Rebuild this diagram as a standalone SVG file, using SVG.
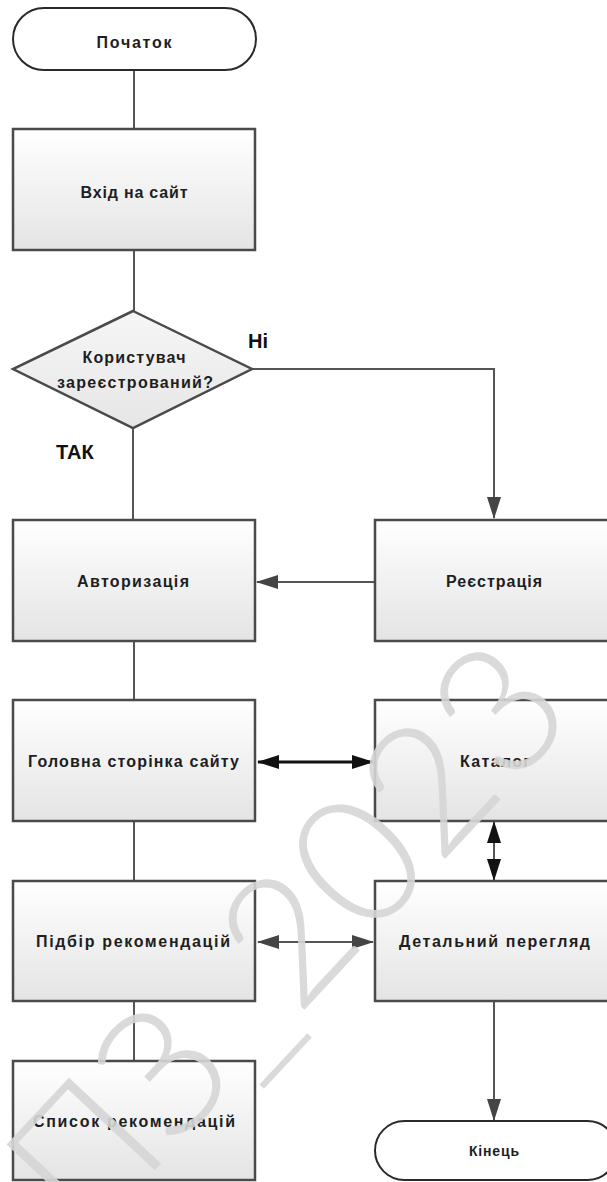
<svg xmlns="http://www.w3.org/2000/svg" width="607" height="1182" viewBox="0 0 607 1182">
<style>
.box{stroke:#4a4a4a;stroke-width:2.5;fill:url(#g)}
.term{stroke:#2a2a2a;stroke-width:2;fill:#fff}
.dia{stroke:#4a4a4a;stroke-width:2.5;fill:url(#gd)}
.t{font-family:"Liberation Sans",Arial,sans-serif;font-weight:bold;font-size:16px;fill:#1e1e1e;text-anchor:middle}
.ts{font-size:14px}
.lbl{font-family:"Liberation Sans",Arial,sans-serif;font-weight:bold;font-size:20px;fill:#111}
.ln{stroke:#555;stroke-width:2;fill:none}
.lnb{stroke:#111;stroke-width:3;fill:none}
.wm{font-family:Lato,"Open Sans",sans-serif;font-weight:300;font-size:178px;fill:#d6d6d6;opacity:0.9}
</style>
<defs>
<linearGradient id="g" x1="0" y1="0" x2="0" y2="1"><stop offset="0" stop-color="#ffffff"/><stop offset="1" stop-color="#e4e4e4"/></linearGradient>
<linearGradient id="gd" x1="0" y1="0" x2="0" y2="1"><stop offset="0" stop-color="#f6f6f6"/><stop offset="1" stop-color="#e6e6e6"/></linearGradient>
<marker id="a" markerUnits="userSpaceOnUse" markerWidth="22" markerHeight="16" viewBox="0 0 22 16" refX="21" refY="8" orient="auto-start-reverse"><path d="M0,1 L22,8 L0,15 z" fill="#444"/></marker>
<marker id="ab" markerUnits="userSpaceOnUse" markerWidth="22" markerHeight="16" viewBox="0 0 22 16" refX="21" refY="8" orient="auto-start-reverse"><path d="M0,1 L22,8 L0,15 z" fill="#111"/></marker>
</defs>
<g id="connectors">
<path class="ln" d="M134,70 V129"/>
<path class="ln" d="M134,250 V311"/>
<path class="ln" d="M133,428 V520"/>
<path class="ln" d="M252,369 H494 V518" marker-end="url(#a)"/>
<path class="ln" d="M375,582 H257" marker-end="url(#a)"/>
<path class="ln" d="M134,641 V700"/>
<path class="lnb" d="M258,762 H373" marker-start="url(#ab)" marker-end="url(#ab)"/>
<path class="ln" d="M494,822 V880" marker-start="url(#ab)" marker-end="url(#ab)"/>
<path class="ln" d="M134,821 V881"/>
<path class="ln" d="M258,942 H373" marker-start="url(#a)" marker-end="url(#a)"/>
<path class="ln" d="M134,1001 V1061"/>
<path class="ln" d="M494,1001 V1120" marker-end="url(#a)"/>
</g>
<g id="start"><rect class="term" x="13" y="8" width="243" height="62" rx="31"/><text class="t" x="134" y="48" textLength="75">Початок</text></g>
<g id="enter"><rect class="box" x="13" y="129" width="242" height="121"/><text class="t" x="134" y="198" textLength="107">Вхід на сайт</text></g>
<g id="decision"><polygon class="dia" points="133,311 252,369 133,428 13,369"/><text class="t" x="134" y="363" textLength="103">Користувач</text><text class="t" x="135" y="388" textLength="156">зареєстрований?</text></g>
<g id="lbl-no"><text class="lbl" x="248" y="348">Ні</text></g>
<g id="lbl-yes"><text class="lbl" x="56" y="459">ТАК</text></g>
<g id="auth"><rect class="box" x="13" y="520" width="242" height="121"/><text class="t" x="133" y="587" textLength="112">Авторизація</text></g>
<g id="reg"><rect class="box" x="375" y="520" width="242" height="121"/><text class="t" x="494" y="587" textLength="96">Реєстрація</text></g>
<g id="home"><rect class="box" x="13" y="700" width="242" height="121"/><text class="t" x="133.5" y="767" textLength="211">Головна сторінка сайту</text></g>
<g id="catalog"><rect class="box" x="375" y="700" width="242" height="121"/><text class="t" x="495" y="767" textLength="70">Каталог</text></g>
<g id="pick"><rect class="box" x="13" y="881" width="242" height="120"/><text class="t" x="133" y="947" textLength="194">Підбір рекомендацій</text></g>
<g id="detail"><rect class="box" x="375" y="881" width="242" height="120"/><text class="t" x="494.5" y="947" textLength="191">Детальний перегляд</text></g>
<g id="list"><rect class="box" x="13" y="1061" width="242" height="119"/><text class="t" x="134" y="1127" textLength="202">Список рекомендацій</text></g>
<g id="end"><rect class="term" x="375" y="1121" width="242" height="59" rx="29.5"/><text class="t ts" x="494" y="1156" textLength="50">Кінець</text></g>
<g id="watermark"><text class="wm" transform="translate(86,1244) rotate(-47)">ПЗ_2023</text></g>
</svg>
